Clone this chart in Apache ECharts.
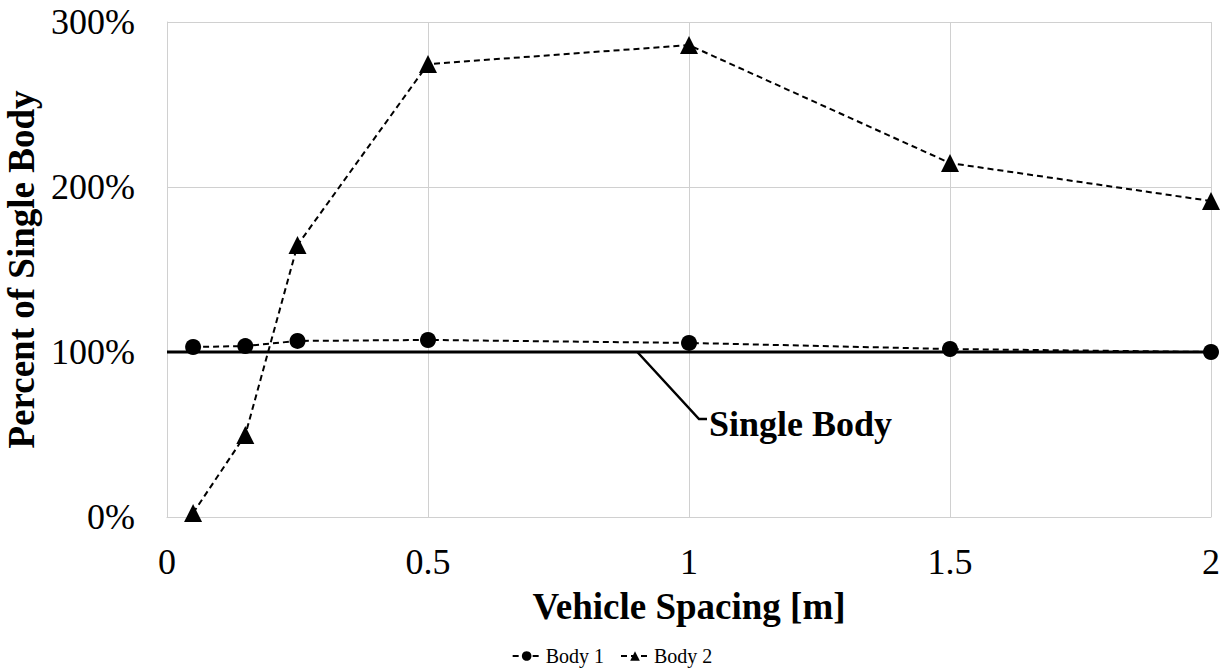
<!DOCTYPE html>
<html>
<head>
<meta charset="utf-8">
<script src="https://cdn.jsdelivr.net/npm/echarts@6/dist/echarts.min.js"></script>
<style>
  html, body { margin: 0; padding: 0; background: #fff; }
  #chart { width: 1224px; height: 670px; }
</style>
</head>
<body>
<div id="chart"></div>
<script>
// vehicle spacing [m]
var spacing = [0.05, 0.15, 0.25, 0.5, 1, 1.5, 2];
// percent of single body
var body1 = [103, 103.6, 106.7, 107.3, 105.5, 101.8, 100];
var body2 = [2.4, 49.7, 164.8, 274.5, 286, 214.5, 191.5];
var singleX = [0, 2];
var singleY = [100, 100];

(function () {
  var serif = '"Liberation Serif", "Times New Roman", serif';
  var ink = '#000';
  var rule = '#d0d0d0';

  function pairs(xs, ys) {
    return xs.map(function (x, i) { return [x, ys[i]]; });
  }

  var chart = echarts.init(document.getElementById('chart'), null, { renderer: 'svg' });

  chart.setOption({
    animation: false,
    grid: { left: 167, right: 13, top: 22, bottom: 153, outerBoundsMode: 'none', containLabel: false },
    legend: {
      bottom: -1, left: 'center',
      itemWidth: 28, itemHeight: 12, itemGap: 16,
      textStyle: { fontFamily: serif, fontSize: 20, color: ink },
      data: ['Body 1', 'Body 2']
    },
    xAxis: {
      type: 'value', min: 0, max: 2, interval: 0.5,
      name: 'Vehicle Spacing [m]', nameLocation: 'middle', nameGap: 71,
      nameTextStyle: { fontFamily: serif, fontSize: 37, fontWeight: 'bold', color: ink },
      axisLine: { lineStyle: { color: rule } },
      axisTick: { show: false },
      axisLabel: { fontFamily: serif, fontSize: 36, color: ink, margin: 27 },
      splitLine: { lineStyle: { color: rule, width: 1 } }
    },
    yAxis: {
      type: 'value', min: 0, max: 300, interval: 100,
      name: 'Percent of Single Body', nameLocation: 'middle', nameGap: 120,
      nameTextStyle: { fontFamily: serif, fontSize: 37, fontWeight: 'bold', color: ink },
      axisLine: { show: true, lineStyle: { color: rule } },
      axisTick: { show: false },
      axisLabel: { fontFamily: serif, fontSize: 36, color: ink, margin: 32,
        formatter: function (v) { return v + '%'; } },
      splitLine: { lineStyle: { color: rule, width: 1 } }
    },
    series: [
      {
        name: 'Single Body', type: 'line', data: pairs(singleX, singleY),
        symbol: 'none', silent: true,
        lineStyle: { color: ink, width: 3 },
        z: 2
      },
      {
        name: 'Body 1', type: 'line', data: pairs(spacing, body1),
        symbol: 'circle', symbolSize: 16,
        itemStyle: { color: ink },
        lineStyle: { color: ink, width: 2, type: [6, 4] },
        z: 3
      },
      {
        name: 'Body 2', type: 'line', data: pairs(spacing, body2),
        symbol: 'triangle', symbolSize: 18,
        itemStyle: { color: ink },
        lineStyle: { color: ink, width: 2, type: [6, 4] },
        z: 3
      }
    ]
  });

  // leader line and label for the single body reference line
  var p0 = chart.convertToPixel({ gridIndex: 0 }, [0.901, 100]);
  chart.setOption({
    graphic: [
      { type: 'polyline', shape: { points: [p0, [699, 419], [707, 419]] },
        style: { stroke: ink, lineWidth: 2.5, fill: null } },
      { type: 'text', x: 709, y: 424,
        style: { text: 'Single Body', fill: ink, font: 'bold 36px ' + serif,
          verticalAlign: 'middle' } }
    ]
  });
})();
</script>
</body>
</html>
